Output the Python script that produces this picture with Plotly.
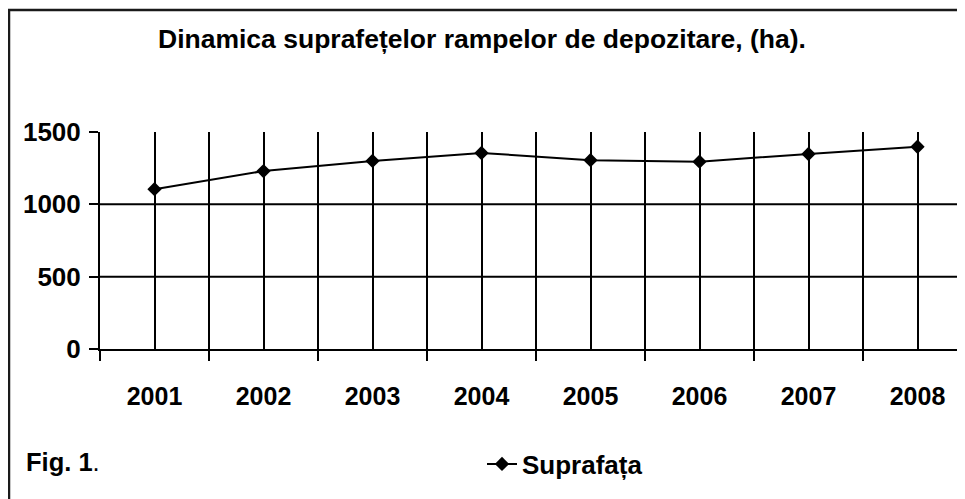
import plotly.graph_objects as go

years = ["2001", "2002", "2003", "2004", "2005", "2006", "2007", "2008"]
values = [1105, 1230, 1300, 1355, 1305, 1295, 1348, 1398]
y_ticks = [0, 500, 1000, 1500]
y_grid = [500, 1000]
series_name = "Suprafața"
title_text = "Dinamica suprafețelor rampelor de depozitare, (ha)."
fig_label = "<b>Fig. 1</b>."

OFF = 8  # page body margin
W, H = 965 - OFF, 499 - OFF
ML, MR, MT, MB = 100 - OFF, 0, 132 - OFF, 150
plot_w = W - ML - MR
ph = H - MT - MB
cat_px = 109.0
x_pos = list(range(1, len(years) + 1))
x_max = 0.5 + plot_w / cat_px

FONT = "Liberation Sans, Arial, sans-serif"


def px_x(p):
    return (p - OFF - ML) / plot_w


def px_y(p):
    return (H - MB - (p - OFF)) / ph


fig = go.Figure()
fig.add_trace(go.Scatter(
    x=x_pos, y=values, name=series_name, mode="lines+markers",
    line=dict(color="black", width=2),
    marker=dict(symbol="diamond", size=11, color="black"),
    showlegend=True,
))

shapes = []
for g in y_grid:
    shapes.append(dict(type="line", xref="paper", yref="y", x0=0, x1=1, y0=g, y1=g,
                       line=dict(color="black", width=2), layer="below"))
shapes.append(dict(type="rect", xref="paper", yref="paper",
                   x0=px_x(9), x1=px_x(1000), y0=px_y(530), y1=px_y(10),
                   line=dict(color="#1a1a1a", width=2.5), fillcolor="rgba(0,0,0,0)", layer="below"))

fig.update_layout(
    width=W, height=H,
    margin=dict(l=ML, r=MR, t=MT, b=MB, pad=0),
    paper_bgcolor="white", plot_bgcolor="white",
    font=dict(family=FONT, color="black", size=24),
    title=dict(text=title_text, x=(482 - OFF) / W, xref="container", xanchor="center",
               y=1 - (39 - OFF) / H, yref="container", yanchor="middle",
               font=dict(family=FONT, size=26.5, weight="bold", color="black")),
    showlegend=True,
    legend=dict(x=px_x(482), xanchor="left", y=px_y(464), yanchor="middle",
                font=dict(family=FONT, size=26, weight="bold", color="black"),
                bgcolor="rgba(0,0,0,0)"),
    shapes=shapes,
    annotations=[dict(text=fig_label, xref="paper", yref="paper",
                      x=px_x(24), xanchor="left", y=px_y(462), yanchor="middle",
                      showarrow=False, font=dict(family=FONT, size=25.5, color="black"))],
)

fig.update_xaxes(
    range=[0.5, x_max], tickmode="array", tickvals=x_pos, ticktext=years,
    ticks="", showgrid=True, gridcolor="black", gridwidth=2,
    showline=True, linecolor="black", linewidth=2, zeroline=False,
    tickfont=dict(family=FONT, size=25, weight="bold", color="black"),
    ticklabelstandoff=24,
    minor=dict(tick0=0.5, dtick=1, ticks="outside", ticklen=10, tickwidth=2, tickcolor="black",
               showgrid=True, gridcolor="black", gridwidth=2),
)
fig.update_yaxes(
    range=[0, 1500], tickmode="array", tickvals=y_ticks,
    ticks="outside", ticklen=9, tickwidth=2, tickcolor="black",
    showgrid=False, showline=True, linecolor="black", linewidth=2, zeroline=False,
    tickfont=dict(family=FONT, size=26, weight="bold", color="black"),
    ticklabelstandoff=3,
)

fig.write_html("out.html")
